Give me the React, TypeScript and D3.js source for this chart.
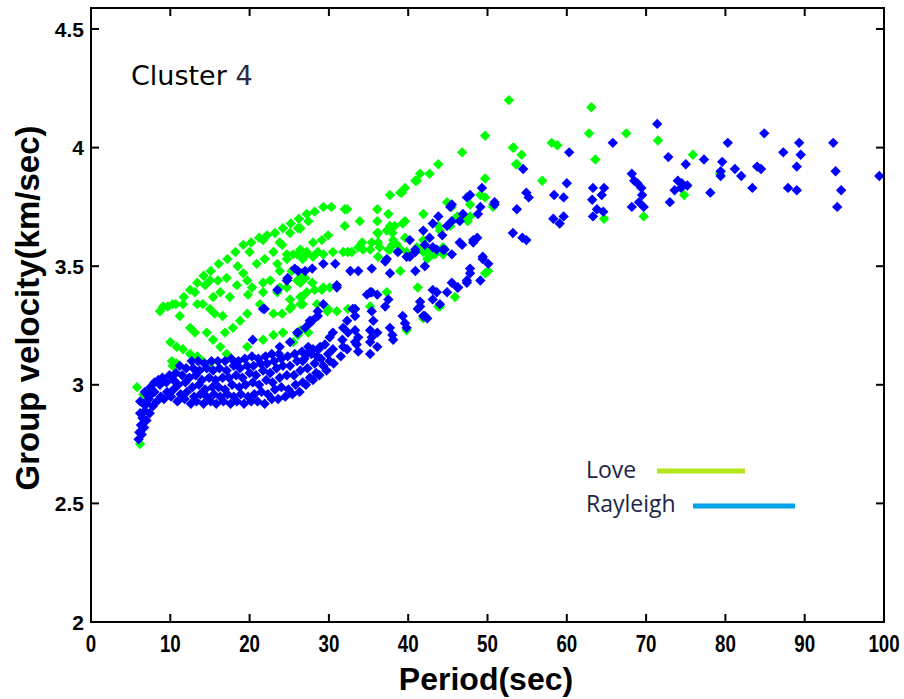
import React from 'react';
import * as d3 from 'd3';

// Love wave group velocities, [period (s), velocity (km/s)]
const loveUpper: [number, number][] = [
  [8.7, 3.31], [9.7, 3.33], [10.7, 3.34], [11.7, 3.37], [12.5, 3.4], [13.4, 3.43], [14.2, 3.46],
  [15.1, 3.48], [16.1, 3.51], [17.2, 3.53], [18.2, 3.56], [19.2, 3.59], [20.2, 3.6], [21.2, 3.62],
  [22.2, 3.63], [23.2, 3.64], [24.2, 3.66], [25.2, 3.68], [26.2, 3.7], [27.2, 3.72], [28.2, 3.73],
  [29.3, 3.75], [30.3, 3.75], [32.0, 3.74],
];

const loveBand: [number, number][] = [
  [26.4, 3.66], [25.1, 3.64], [27.4, 3.69], [24.1, 3.59], [23.0, 3.56], [21.7, 3.61], [20.0, 3.56],
  [20.9, 3.51], [21.9, 3.53], [23.5, 3.51], [24.7, 3.53], [26.0, 3.55], [27.2, 3.56], [18.5, 3.5],
  [19.2, 3.47], [17.1, 3.45], [16.0, 3.44], [15.0, 3.44], [14.4, 3.42], [13.1, 3.39], [18.4, 3.42],
  [19.7, 3.44], [20.3, 3.41], [21.7, 3.43], [22.6, 3.44], [21.7, 3.39], [23.5, 3.39], [24.7, 3.41],
  [26.0, 3.44], [27.0, 3.45], [26.4, 3.37], [25.1, 3.36], [19.8, 3.38], [17.5, 3.37], [16.3, 3.39],
  [15.4, 3.37], [13.4, 3.34], [11.6, 3.34], [10.3, 3.34], [9.1, 3.33],
];

const loveLower: [number, number][] = [
  [11.2, 3.29], [12.5, 3.24], [13.1, 3.22], [10.0, 3.18], [10.8, 3.16], [11.6, 3.15], [12.5, 3.13],
  [13.4, 3.12], [14.1, 3.1], [10.2, 3.1], [10.3, 3.08], [14.6, 3.22], [15.4, 3.19], [16.3, 3.16],
  [17.1, 3.13], [17.9, 3.24], [18.8, 3.27], [19.7, 3.3], [21.7, 3.19], [23.0, 3.21], [24.2, 3.22],
  [25.5, 3.18], [23.0, 3.3], [24.1, 3.3], [25.3, 3.33], [26.4, 3.34], [21.3, 3.34], [14.1, 3.34],
  [15.0, 3.32], [15.6, 3.3], [16.6, 3.29], [16.9, 3.22], [10.8, 3.09], [15.0, 3.09], [19.7, 3.16],
  [5.8, 2.99], [6.6, 2.96], [7.4, 2.98], [6.2, 2.75],
];

const loveMid: [number, number][] = [
  [39.6, 3.83], [40.9, 3.86], [37.7, 3.8], [39.0, 3.81], [32.3, 3.74], [33.9, 3.69], [36.1, 3.74],
  [37.5, 3.72], [36.1, 3.69], [26.1, 3.66], [28.0, 3.6], [29.1, 3.61], [29.9, 3.63], [32.0, 3.67],
  [34.2, 3.6], [35.4, 3.6], [36.2, 3.64], [37.3, 3.65], [38.3, 3.67], [39.3, 3.68], [41.9, 3.72],
  [44.9, 3.77], [46.2, 3.71], [47.5, 3.69], [49.1, 3.8], [49.7, 3.79], [50.7, 3.76], [23.8, 3.6],
  [24.7, 3.55], [25.5, 3.55], [26.7, 3.53], [28.0, 3.54], [29.3, 3.55], [30.5, 3.56], [31.8, 3.56],
  [32.9, 3.56], [34.3, 3.57], [35.2, 3.57], [36.4, 3.58], [37.7, 3.57], [38.6, 3.59], [39.8, 3.56],
  [41.1, 3.58], [42.4, 3.56], [43.6, 3.57], [44.4, 3.58], [23.8, 3.48], [25.3, 3.48], [26.6, 3.47],
  [24.7, 3.44], [26.4, 3.43], [27.9, 3.43], [29.1, 3.4], [30.1, 3.41], [23.8, 3.41], [25.1, 3.32],
  [26.7, 3.34], [28.5, 3.34], [29.9, 3.32], [31.0, 3.31], [32.4, 3.32], [33.3, 3.32], [24.2, 3.22],
  [26.1, 3.21], [27.4, 3.22], [50.1, 3.48], [43.8, 3.33], [46.8, 3.98], [43.8, 3.93], [41.5, 3.89],
  [42.7, 3.89], [41.1, 3.86], [39.2, 3.81], [49.7, 3.87], [53.2, 4.0], [53.7, 3.93], [39.6, 3.69],
  [45.5, 3.75], [47.8, 3.76], [47.4, 3.7], [45.9, 3.7], [45.3, 3.67], [43.8, 3.67], [44.0, 3.65],
  [37.7, 3.67], [38.0, 3.64], [38.1, 3.61], [36.1, 3.64], [36.2, 3.6], [37.5, 3.57], [39.6, 3.62],
  [41.9, 3.61], [41.9, 3.56], [43.4, 3.55], [47.8, 3.71], [26.4, 3.57], [27.2, 3.55], [28.6, 3.56],
  [32.4, 3.56], [33.7, 3.58], [36.2, 3.54], [38.0, 3.59], [39.0, 3.57], [42.4, 3.53], [43.1, 3.55],
  [44.4, 3.55], [26.7, 3.46], [27.2, 3.39], [28.2, 3.4], [29.3, 3.41], [26.6, 3.37], [29.8, 3.31],
  [26.4, 3.23], [37.3, 3.39], [35.2, 3.33], [39.0, 3.48], [41.2, 3.41], [45.9, 3.37], [44.0, 3.33],
  [41.9, 3.28], [39.8, 3.23], [49.7, 3.47],
];

const loveLong: [number, number][] = [
  [49.7, 4.05], [52.7, 4.2], [63.1, 4.17], [53.3, 4.0], [54.3, 3.97], [53.6, 3.93], [58.1, 4.02],
  [58.8, 4.01], [62.8, 4.06], [67.5, 4.06], [71.5, 4.03], [63.6, 3.95], [56.9, 3.86], [50.7, 3.75],
  [64.7, 3.7], [69.7, 3.71], [74.8, 3.8], [75.9, 3.97], [79.3, 3.89],
];

// Rayleigh wave group velocities
const rayleighTail: [number, number][] = [
  [6.0, 2.77], [6.1, 2.8], [6.3, 2.83], [6.5, 2.86], [6.8, 2.89], [7.0, 2.92], [7.3, 2.94],
  [7.6, 2.96], [8.0, 2.97], [6.4, 2.79], [6.7, 2.82], [7.0, 2.85], [7.4, 2.88], [7.8, 2.91],
  [8.3, 2.93], [8.8, 2.95], [6.2, 2.88], [6.6, 2.92], [7.0, 2.96], [7.5, 2.99], [8.0, 3.01],
  [8.5, 3.02], [9.0, 3.03], [6.2, 2.93], [6.8, 2.97],
];

const rayleighBandLow: [number, number][] = [
  [9.2, 2.94], [10.1, 2.95], [10.9, 2.93], [11.8, 2.94], [12.6, 2.92], [13.3, 2.93], [14.2, 2.92],
  [15.1, 2.93], [15.8, 2.92], [16.7, 2.93], [17.6, 2.92], [18.4, 2.93], [19.3, 2.92], [20.2, 2.93],
  [21.0, 2.93], [21.9, 2.92], [22.8, 2.94], [23.6, 2.94], [24.5, 2.95], [25.4, 2.96], [26.3, 2.97],
  [27.1, 3.0], [28.0, 3.02], [28.8, 3.04], [29.7, 3.06], [30.6, 3.09], [31.5, 3.12], [32.3, 3.15],
  [9.6, 2.97], [10.4, 2.98], [11.3, 2.96], [12.1, 2.97], [13.0, 2.95], [13.8, 2.96], [14.6, 2.95],
  [15.5, 2.96], [16.3, 2.95], [17.2, 2.96], [18.0, 2.95], [18.9, 2.96], [19.8, 2.95], [20.6, 2.96],
  [21.5, 2.97], [22.3, 2.96], [23.2, 2.98], [24.0, 2.99], [24.9, 2.98], [25.8, 3.0], [26.7, 3.01],
  [27.6, 3.03], [28.4, 3.05], [29.3, 3.08], [30.1, 3.1],
];

const rayleighBandHigh: [number, number][] = [
  [8.7, 3.0], [9.5, 3.01], [10.4, 3.02], [11.0, 3.0], [11.9, 3.01], [12.8, 2.99], [13.6, 3.0],
  [14.4, 2.98], [15.3, 2.99], [16.1, 2.99], [16.9, 2.98], [17.8, 3.0], [18.7, 2.99], [19.5, 3.0],
  [20.4, 3.01], [21.2, 3.0], [22.1, 3.02], [22.9, 3.01], [23.8, 3.03], [24.7, 3.04], [25.6, 3.04],
  [26.4, 3.06], [27.3, 3.07], [28.2, 3.09], [29.0, 3.11], [29.9, 3.13],
  [9.9, 3.04], [10.7, 3.05], [11.5, 3.04], [12.4, 3.03], [13.2, 3.04], [14.0, 3.02], [14.9, 3.03],
  [15.7, 3.02], [16.6, 3.03], [17.4, 3.03], [18.3, 3.04], [19.1, 3.03], [20.0, 3.05], [20.8, 3.04],
  [21.7, 3.06], [22.6, 3.05], [23.4, 3.07], [24.2, 3.08], [25.1, 3.08], [26.0, 3.1], [26.9, 3.11],
  [27.8, 3.13], [28.7, 3.15], [29.5, 3.17],
  [11.2, 3.08], [12.0, 3.07], [12.9, 3.07], [13.7, 3.06], [14.6, 3.07], [15.4, 3.06], [16.2, 3.07],
  [17.1, 3.06], [18.0, 3.08], [18.8, 3.07], [19.7, 3.08], [20.5, 3.08], [21.4, 3.09], [22.2, 3.09],
  [23.1, 3.1], [24.0, 3.11], [24.8, 3.12], [25.7, 3.13], [26.6, 3.14], [27.4, 3.16],
  [12.7, 3.1], [13.5, 3.1], [14.3, 3.09], [15.2, 3.1], [16.0, 3.1], [16.9, 3.1], [17.7, 3.11],
  [18.6, 3.1], [19.4, 3.11], [20.3, 3.12], [21.1, 3.11], [22.0, 3.12], [22.8, 3.13], [23.7, 3.13],
];

const rayleighRise: [number, number][] = [
  [26.7, 3.1], [27.2, 3.13], [28.5, 3.12], [28.0, 3.15], [28.9, 3.16], [30.5, 3.15], [31.8, 3.16],
  [31.7, 3.19], [30.1, 3.2], [30.5, 3.22], [33.5, 3.17], [33.7, 3.14], [36.1, 3.16], [35.4, 3.2],
  [35.2, 3.23], [35.6, 3.27], [35.4, 3.31], [33.3, 3.23], [33.7, 3.2], [32.4, 3.22], [31.8, 3.24],
  [32.3, 3.27], [33.3, 3.29], [33.0, 3.32], [27.0, 3.24], [27.6, 3.27], [28.6, 3.31], [29.3, 3.34],
  [31.0, 3.42], [37.7, 3.24], [38.0, 3.21], [38.1, 3.19], [37.1, 3.33], [37.5, 3.36], [36.1, 3.38],
  [35.2, 3.39], [34.8, 3.38], [39.3, 3.29], [39.6, 3.26], [39.8, 3.24], [41.2, 3.32], [41.5, 3.35],
  [41.9, 3.29], [42.4, 3.28], [43.1, 3.36], [44.0, 3.34], [43.6, 3.39], [44.9, 3.39], [45.5, 3.43],
  [46.3, 3.41], [47.4, 3.43], [47.8, 3.47], [49.4, 3.53], [50.1, 3.51], [27.0, 3.48], [27.9, 3.49],
  [29.3, 3.51], [30.8, 3.51], [32.7, 3.48], [33.7, 3.48], [35.4, 3.49], [37.1, 3.52], [37.7, 3.47],
  [40.2, 3.54], [40.9, 3.57], [42.1, 3.59], [43.6, 3.57], [44.4, 3.57], [46.8, 3.59], [48.2, 3.61],
  [40.9, 3.48], [42.1, 3.5], [35.2, 3.18], [35.2, 3.13], [33.3, 3.18], [36.1, 3.22], [41.5, 3.33],
  [42.1, 3.29], [43.1, 3.4], [46.2, 3.41], [47.4, 3.44], [49.1, 3.44], [47.8, 3.49], [26.0, 3.22],
  [25.1, 3.18], [27.9, 3.27], [33.3, 3.32], [31.0, 3.41], [35.4, 3.39], [25.7, 3.49], [23.5, 3.4],
  [24.7, 3.44], [26.1, 3.48], [24.8, 3.45], [21.9, 3.32], [20.4, 3.19], [21.7, 3.32], [23.8, 3.16],
  [26.1, 3.22], [27.6, 3.26], [28.6, 3.29],
];

const rayleighUpper: [number, number][] = [
  [49.3, 3.83], [47.4, 3.79], [45.5, 3.76], [50.9, 3.77], [49.1, 3.75], [48.8, 3.72], [46.9, 3.72],
  [46.5, 3.69], [45.5, 3.69], [43.8, 3.71], [44.9, 3.67], [41.9, 3.65], [42.7, 3.62], [44.3, 3.63],
  [40.2, 3.61], [46.5, 3.6], [48.7, 3.62], [48.2, 3.6], [38.7, 3.56], [40.9, 3.56], [43.1, 3.58],
  [44.6, 3.57], [45.5, 3.55], [49.4, 3.54], [37.3, 3.53], [39.8, 3.54], [43.1, 3.68], [45.3, 3.75],
  [47.8, 3.8],
];

const rayleighLong: [number, number][] = [
  [71.4, 4.1], [72.8, 3.96], [75.0, 3.93], [65.8, 4.02], [60.3, 3.98], [54.5, 3.91], [60.0, 3.85],
  [54.9, 3.81], [55.2, 3.79], [58.4, 3.8], [59.6, 3.79], [50.9, 3.76], [53.7, 3.74], [58.3, 3.7],
  [59.1, 3.68], [59.6, 3.71], [53.2, 3.64], [54.4, 3.62], [54.9, 3.61], [63.3, 3.83], [64.7, 3.83],
  [63.2, 3.78], [64.4, 3.8], [63.8, 3.74], [64.6, 3.73], [63.3, 3.71], [68.2, 3.89], [68.5, 3.86],
  [68.9, 3.85], [69.4, 3.83], [69.5, 3.8], [69.1, 3.77], [68.2, 3.75], [69.7, 3.75], [73.0, 3.77],
  [74.0, 3.86], [73.6, 3.82], [74.4, 3.83], [75.2, 3.84], [84.9, 4.06], [80.3, 4.02], [89.3, 4.02],
  [93.6, 4.02], [87.3, 3.98], [89.5, 3.97], [77.3, 3.95], [79.6, 3.94], [89.0, 3.92], [81.2, 3.91],
  [82.0, 3.88], [84.0, 3.92], [84.5, 3.91], [79.4, 3.9], [79.4, 3.88], [93.9, 3.9], [99.4, 3.88],
  [74.5, 3.85], [78.1, 3.81], [83.4, 3.83], [87.9, 3.83], [89.0, 3.82], [94.6, 3.82], [94.1, 3.75],
];

const xTicks = [0, 10, 20, 30, 40, 50, 60, 70, 80, 90, 100];
const yTicks = [2, 2.5, 3, 3.5, 4, 4.5];

const love = [...loveUpper, ...loveBand, ...loveLower, ...loveMid, ...loveLong];
const rayleigh = [...rayleighTail, ...rayleighBandLow, ...rayleighBandHigh, ...rayleighRise, ...rayleighUpper, ...rayleighLong];

export default function App() {
  const width = 904;
  const height = 699;
  const frameTop = 8;

  const x = d3.scaleLinear().domain([0, 100]).range([91, 884]);
  const y = d3.scaleLinear().domain([2, 4.5]).range([622, 29]);

  const diamond = d3.symbol().type(d3.symbolSquare).size(54)() as string;
  const tick = 8;

  return (
    <svg width={width} height={height} style={{ position: 'absolute', left: 0, top: 0, background: '#fff' }}>
      {/* points */}
      <g fill="#00ff00">
        {love.map((d, i) => (
          <path key={'l' + i} d={diamond} transform={`translate(${x(d[0])},${y(d[1])}) rotate(45)`} />
        ))}
      </g>
      <g fill="#0000ff">
        {rayleigh.map((d, i) => (
          <path key={'r' + i} d={diamond} transform={`translate(${x(d[0])},${y(d[1])}) rotate(45)`} />
        ))}
      </g>

      {/* frame */}
      <rect x={x(0)} y={frameTop} width={x(100) - x(0)} height={y(2) - frameTop}
        fill="none" stroke="#000" strokeWidth={2} />

      {/* ticks */}
      <g stroke="#000" strokeWidth={2}>
        {xTicks.slice(1, -1).map(t => (
          <g key={'xt' + t}>
            <line x1={x(t)} x2={x(t)} y1={y(2)} y2={y(2) - tick} />
            <line x1={x(t)} x2={x(t)} y1={frameTop} y2={frameTop + tick} />
          </g>
        ))}
        {yTicks.map(t => (
          <g key={'yt' + t}>
            <line x1={x(0)} x2={x(0) + tick} y1={y(t)} y2={y(t)} />
            <line x1={x(100)} x2={x(100) - tick} y1={y(t)} y2={y(t)} />
          </g>
        ))}
      </g>

      {/* tick labels */}
      <g fontFamily="Liberation Sans, Arial, sans-serif" fontWeight="bold" fill="#000">
        {xTicks.map(t => (
          <text key={'xl' + t} textAnchor="middle" fontSize={24}
            transform={`translate(${x(t)},${652}) scale(0.78,1)`}>{t}</text>
        ))}
        {yTicks.map(t => (
          <text key={'yl' + t} x={84} y={y(t)} dy="0.36em" textAnchor="end" fontSize={21}>{t}</text>
        ))}
      </g>

      {/* axis titles */}
      <text x={486} y={690} textAnchor="middle" fontFamily="Liberation Sans, Arial, sans-serif"
        fontWeight="bold" fontSize={32}>Period(sec)</text>
      <text transform={`translate(39,${308}) rotate(-90)`} textAnchor="middle"
        fontFamily="Liberation Sans, Arial, sans-serif" fontWeight="bold" fontSize={33}>Group velocity(km/sec)</text>

      {/* cluster label */}
      <text x={131} y={85} fontFamily="DejaVu Sans, sans-serif" fontSize={27} fill="#000">
        Cluster <tspan fill="#2b2b3a">4</tspan>
      </text>

      {/* legend */}
      <g fontFamily="Open Sans, sans-serif" fontSize={23} fill="#1b2547">
        <text x={586} y={478}>Love</text>
        <text x={586} y={512}>Rayleigh</text>
      </g>
      <line x1={657} x2={745} y1={471} y2={471} stroke="#b5e61d" strokeWidth={5} />
      <line x1={693} x2={795} y1={506} y2={506} stroke="#00a2e8" strokeWidth={5} />
    </svg>
  );
}
